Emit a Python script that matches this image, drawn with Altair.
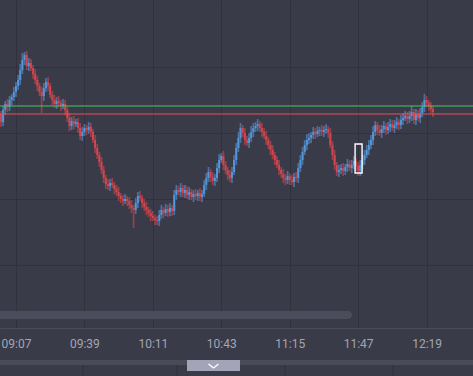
import altair as alt
import pandas as pd
import numpy as np

# ---- data (1-minute candles from 09:00) ----
first_open = 214
closes = [
    206, 218, 224, 221, 228, 231, 236, 242, 248, 258,
    268, 273, 262, 265, 260, 254, 248, 242, 236, 232,
    240, 246, 242, 233, 228, 224, 227, 225, 222, 224,
    218, 210, 202, 207, 204, 206, 200, 192, 196, 200,
    198, 201, 196, 188, 180, 173, 166, 158, 150, 144,
    142, 145, 143, 139, 136, 132, 129, 127, 129, 127,
    123, 120, 118, 125, 132, 130, 125, 121, 118, 115,
    112, 110, 108, 107, 113, 118, 115, 119, 116, 120,
    117, 133, 138, 136, 140, 135, 138, 133, 136, 131,
    134, 132, 135, 131, 134, 143, 150, 156, 151, 147,
    150, 160, 168, 172, 163, 158, 153, 150, 156, 168,
    180, 190, 200, 195, 188, 185, 190, 196, 200, 202,
    204, 200, 196, 192, 188, 183, 178, 173, 168, 163,
    158, 154, 150, 148, 152, 148, 146, 151, 150, 160,
    168, 176, 183, 188, 190, 193, 196, 194, 197, 198,
    196, 198, 199, 195, 183, 173, 163, 156, 158, 160,
    157, 161, 164, 160, 163, 167, 162, 157, 163, 168,
    173, 178, 183, 188, 196, 203, 198, 195, 199, 202,
    198, 201, 204, 200, 203, 206, 203, 208, 210, 212,
    209, 212, 216, 208, 214, 210, 215, 221, 228, 225,
    222, 219, 216,
]
upper_wick = [
    3, 4, 3, 5, 4, 3, 5, 4, 5, 6, 7, 3, 4, 5, 4, 3, 5, 4, 3, 5,
    5, 4, 5, 3, 4, 5, 4, 5, 3, 5, 4, 3, 5, 4, 5, 3, 4, 5, 5, 4,
    3, 5, 4, 3, 5, 4, 3, 5, 4, 3, 5, 4, 5, 3, 4, 5, 3, 4, 5, 3,
    4, 5, 3, 5, 4, 5, 3, 4, 5, 3, 4, 5, 3, 4, 5, 5, 3, 5, 4, 5,
    3, 5, 5, 4, 5, 3, 5, 4, 5, 3, 4, 5, 3, 5, 4, 5, 5, 5, 3, 5,
    4, 5, 6, 3, 5, 4, 3, 5, 5, 5, 5, 6, 5, 3, 5, 4, 5, 6, 5, 4,
    5, 3, 5, 4, 5, 3, 4, 5, 3, 4, 5, 3, 5, 4, 5, 3, 5, 4, 5, 5,
    5, 5, 5, 6, 5, 3, 5, 4, 5, 3, 5, 4, 5, 3, 5, 4, 5, 3, 5, 4,
    5, 3, 5, 4, 5, 5, 3, 4, 5, 5, 5, 5, 5, 5, 6, 4, 3, 5, 4, 5,
    3, 5, 5, 4, 5, 5, 3, 5, 5, 5, 4, 5, 6, 3, 5, 4, 5, 5, 6, 4,
    3, 4, 3,
]
lower_wick = [
    5, 4, 5, 5, 4, 5, 4, 5, 4, 5, 4, 5, 4, 5, 3, 5, 4, 5, 4, 17,
    5, 4, 5, 3, 5, 4, 5, 4, 5, 3, 5, 4, 5, 4, 5, 3, 5, 4, 5, 4,
    5, 4, 5, 3, 5, 4, 5, 4, 5, 5, 4, 5, 3, 5, 4, 5, 4, 5, 3, 5,
    4, 5, 18, 4, 5, 3, 5, 4, 5, 4, 5, 3, 5, 4, 5, 4, 5, 3, 5, 4,
    5, 4, 5, 3, 5, 4, 5, 4, 5, 3, 5, 4, 5, 4, 5, 3, 5, 4, 5, 4,
    5, 4, 5, 3, 5, 4, 5, 4, 5, 3, 5, 4, 5, 4, 5, 3, 5, 4, 5, 4,
    5, 4, 5, 3, 5, 4, 5, 4, 5, 3, 5, 4, 5, 5, 4, 5, 3, 5, 4, 5,
    4, 5, 3, 5, 4, 5, 4, 5, 3, 5, 4, 5, 4, 5, 3, 5, 5, 4, 5, 4,
    5, 4, 5, 3, 5, 4, 5, 5, 5, 4, 5, 3, 5, 4, 5, 4, 5, 3, 5, 4,
    5, 4, 5, 3, 5, 4, 5, 4, 5, 3, 5, 4, 5, 4, 5, 3, 5, 4, 5, 4,
    5, 4, 5,
]
tick_labels = ["09:07", "09:39", "10:11", "10:43", "11:15", "11:47", "12:19"]
ask_level = 222
bid_level = 214
selected_candle = 167
selected_box = [155, 184]

DAY = dict(year=2024, month=3, date=5)
BG = "#3a3b48"
GRID = "#30313c"
UP = "#5598dc"
DOWN = "#d6464f"

opens = [first_open] + closes[:-1]
times = pd.date_range("2024-03-05 09:00", periods=len(closes), freq="min")
df = pd.DataFrame({"t": times, "open": opens, "close": closes})
df["high"] = df[["open", "close"]].max(axis=1) + np.array(upper_wick)
df["low"] = df[["open", "close"]].min(axis=1) - np.array(lower_wick)
df["dir"] = np.where(df["close"] >= df["open"], "up", "down")

tick_vals = [alt.DateTime(hours=int(s[:2]), minutes=int(s[3:]), **DAY) for s in tick_labels]

x_enc = alt.X(
    "t:T",
    scale=alt.Scale(domain=[alt.DateTime(hours=8, minutes=59, seconds=32, **DAY),
                            alt.DateTime(hours=12, minutes=40, seconds=42, **DAY)],
                    padding=0, nice=False),
    axis=alt.Axis(values=tick_vals, format="%H:%M", title=None, grid=True,
                  gridColor=GRID, gridWidth=1, ticks=False, domain=True,
                  domainColor="#4b4c59", labelColor="#a4a5b0", labelFont="Roboto",
                  labelFontSize=12, labelPadding=15, labelBaseline="middle",
                  labelFlush=False, labelOverlap=False, labelBound=False),
)
y_scale = alt.Scale(domain=[0, 328], nice=False, zero=False, padding=0)
y_axis = alt.Axis(values=[63, 129, 195, 261], labels=False, ticks=False, domain=False,
                  grid=True, gridColor=GRID, title=None)
color = alt.Color("dir:N", scale=alt.Scale(domain=["up", "down"], range=[UP, DOWN]), legend=None)

base = alt.Chart(df)
wicks = base.mark_bar(size=1.7, opacity=0.6).encode(
    x=x_enc, y=alt.Y("low:Q", scale=y_scale, axis=y_axis), y2="high:Q", color=color)
bodies = base.mark_bar(size=2.0, opacity=0.95).encode(
    x="t:T", y="open:Q", y2="close:Q", color=color)

ask_line = alt.Chart(pd.DataFrame({"level": [ask_level]})).mark_rule(
    color="#4cc35a", strokeWidth=1.2).encode(y="level:Q")
bid_line = alt.Chart(pd.DataFrame({"level": [bid_level]})).mark_rule(
    color="#e5525a", strokeWidth=1.2).encode(y="level:Q")

t_sel = times[selected_candle]
box_df = pd.DataFrame({
    "t1": [t_sel - pd.Timedelta(seconds=86)],
    "t2": [t_sel + pd.Timedelta(seconds=110)],
    "lo": [selected_box[0]], "hi": [selected_box[1]],
})
box = alt.Chart(box_df).mark_rect(fillOpacity=0, stroke="white", strokeWidth=1.4).encode(
    x="t1:T", x2="t2:T", y="lo:Q", y2="hi:Q")

one = pd.DataFrame({"a": [0]})
scrollbar = alt.Chart(one).mark_rect(color="#4c4d5c", cornerRadius=4).encode(
    x=alt.value(-6), x2=alt.value(352), y=alt.value(311), y2=alt.value(319))
band = alt.Chart(one).mark_rect(color="#4a4b59").encode(
    x=alt.value(0), x2=alt.value(473), y=alt.value(360), y2=alt.value(365))
handle = alt.Chart(one).mark_rect(color="#a3a4b8").encode(
    x=alt.value(187), x2=alt.value(240), y=alt.value(360), y2=alt.value(371))
chevron = alt.Chart(one).mark_point(
    shape="M-1,-0.4L0,0.4L-1,-0.4M0,0.4L1,-0.4", filled=False, stroke="white",
    strokeWidth=1.3, size=100, opacity=1).encode(x=alt.value(213.5), y=alt.value(366))
lower_lines = [
    alt.Chart(one).mark_rule(color=GRID).encode(
        x=alt.value(px), y=alt.value(365), y2=alt.value(376))
    for px in (83, 177, 285, 393)
]

chart = alt.layer(
    wicks, bodies, ask_line, bid_line, box, scrollbar, band, handle, chevron, *lower_lines
).properties(
    width=473, height=328,
    background=BG,
    padding={"left": 0, "top": 0, "right": 0, "bottom": 48},
    autosize=alt.AutoSizeParams(type="none"),
).configure_view(stroke=None)

chart.save("out.html", embed_options={"renderer": "svg", "actions": False})
